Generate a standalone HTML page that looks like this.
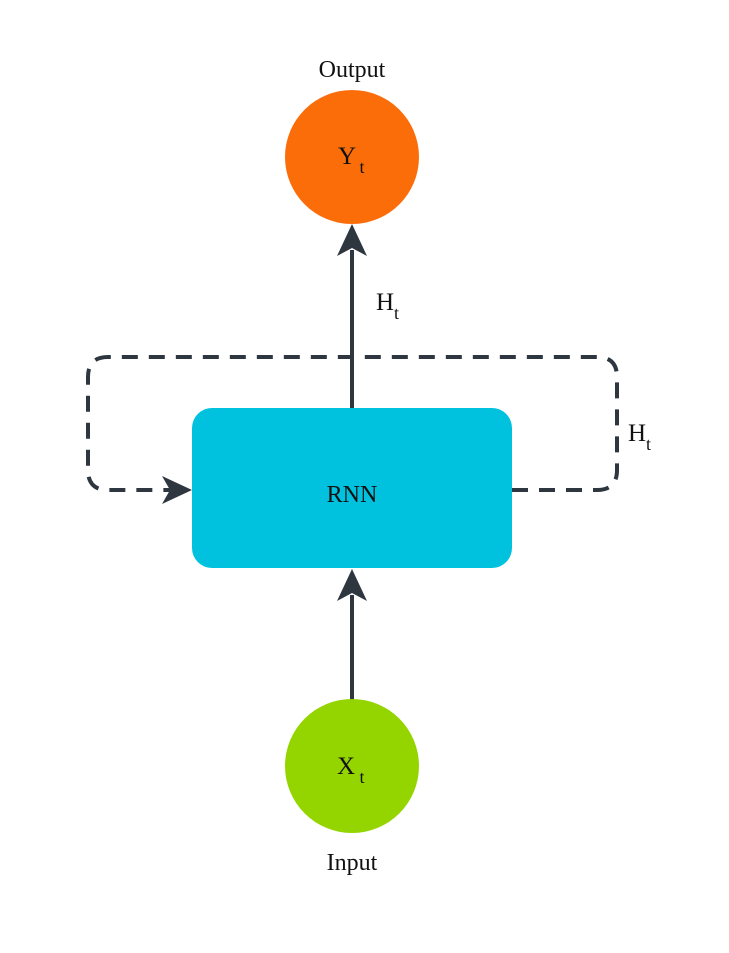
<!DOCTYPE html>
<html><head><meta charset="utf-8"><style>
html,body{margin:0;padding:0;background:#fff;}
svg{display:block;}
text{font-family:"Liberation Serif",serif;fill:#111;}
</style></head><body>
<svg width="729" height="953" viewBox="0 0 729 953">
<rect width="729" height="953" fill="#fff"/>
<path d="M512 490 H597 Q617 490 617 470 V377 Q617 357 597 357 H108 Q88 357 88 377 V470 Q88 490 108 490 H172" fill="none" stroke="#2e3640" stroke-width="4" stroke-dasharray="16 11"/>
<polygon points="192,490 162,476 170,490 162,504" fill="#2e3640"/>
<rect x="192" y="408" width="320" height="160" rx="20" fill="#00c1de"/>
<text x="352" y="502" font-size="24" text-anchor="middle">RNN</text>
<line x1="352" y1="408" x2="352" y2="250" stroke="#2e3640" stroke-width="4"/>
<polygon points="352,224 337,256 352,248 367,256" fill="#2e3640"/>
<line x1="352" y1="700" x2="352" y2="595" stroke="#2e3640" stroke-width="4"/>
<polygon points="352,569 337,601 352,593 367,601" fill="#2e3640"/>
<circle cx="352" cy="157" r="67" fill="#fb6d09"/>
<text x="347" y="164" font-size="25" text-anchor="middle">Y</text>
<text x="362" y="173" font-size="18" text-anchor="middle">t</text>
<text x="352" y="77" font-size="24" text-anchor="middle">Output</text>
<circle cx="352" cy="766" r="67" fill="#94d500"/>
<text x="346" y="774" font-size="25" text-anchor="middle">X</text>
<text x="362" y="783" font-size="18" text-anchor="middle">t</text>
<text x="352" y="870" font-size="24" text-anchor="middle">Input</text>
<text x="376" y="310" font-size="25">H</text>
<text x="394" y="319" font-size="18">t</text>
<text x="628" y="441" font-size="25">H</text>
<text x="646" y="450" font-size="18">t</text>
</svg>
</body></html>
